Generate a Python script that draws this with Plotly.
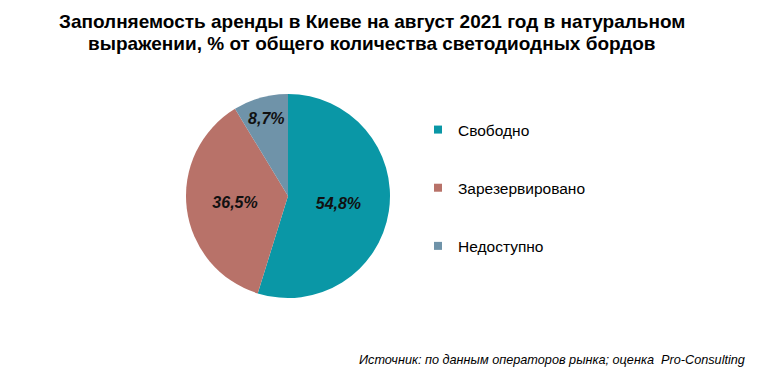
import plotly.graph_objects as go

categories = ["Свободно", "Зарезервировано", "Недоступно"]
values = [54.8, 36.5, 8.7]
text_labels = ["54,8%", "36,5%", "8,7%"]
colors = ["#0A97A6", "#B87269", "#6F93A9"]

title_lines = ["Заполняемость аренды в Киеве на август 2021 год в натуральном",
               "выражении, % от общего количества светодиодных бордов"]
source = "Источник: по данным операторов рынка; оценка  Pro-Consulting"

fig = go.Figure()
fig.add_trace(go.Pie(
    labels=categories, values=values, text=text_labels,
    textinfo="text", textposition="inside", insidetextorientation="horizontal",
    sort=False, direction="clockwise", rotation=0,
    marker=dict(colors=colors, line=dict(width=0)),
    textfont=dict(family="Arial, Liberation Sans", size=16, color="#111111"),
    texttemplate="<b><i>%{text}</i></b>",
    showlegend=False,
    domain=dict(x=[178/767, 382/767], y=[1-290/374, 1-86/374]),
))
for name, col in zip(categories, colors):
    fig.add_trace(go.Scatter(
        x=[None], y=[None], mode="markers", name=name, legendgroup=name,
        marker=dict(symbol="square", size=8, color=col),
    ))

title_ann = [dict(text="<b>" + line + "</b>", x=364/767, y=1-yc/374,
                  xref="paper", yref="paper", xanchor="center", yanchor="middle",
                  showarrow=False,
                  font=dict(family="Arial, Liberation Sans", size=19, color="#000000"))
             for line, yc in zip(title_lines, [13, 36])]

fig.update_layout(
    width=767, height=374,
    margin=dict(l=0, r=0, t=0, b=0),
    paper_bgcolor="white", plot_bgcolor="white",
    xaxis=dict(visible=False), yaxis=dict(visible=False),
    legend=dict(x=410/767, y=1-105/374, xanchor="left", yanchor="top",
                tracegroupgap=35, itemwidth=30,
                font=dict(family="Arial, Liberation Sans", size=15.5, color="#000000"),
                bgcolor="rgba(0,0,0,0)"),
    annotations=title_ann + [
        dict(text="<i>" + source + "</i>", x=739/767, y=1-352/374,
             xref="paper", yref="paper", xanchor="right", yanchor="middle",
             showarrow=False,
             font=dict(family="Arial, Liberation Sans", size=12.7, color="#000000")),
    ],
)
fig.write_html("out.html")
